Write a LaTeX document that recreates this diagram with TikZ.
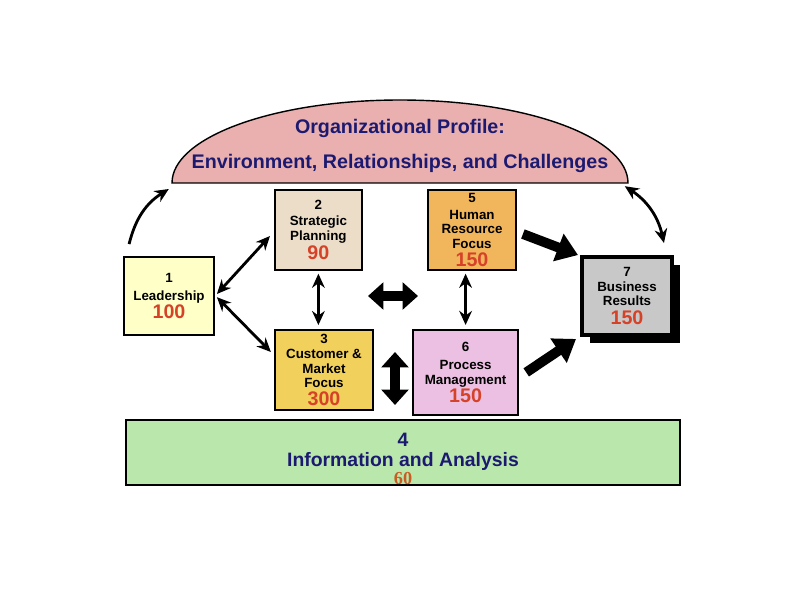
\documentclass[tikz,border=0pt]{standalone}
\usepackage{fontspec}
\setmainfont{Liberation Sans}
\newfontfamily\ptserif{Liberation Serif}
\usetikzlibrary{arrows.meta,positioning,calc,shadows}
\definecolor{BNavy}{RGB}{28,26,112}
\definecolor{BRed}{RGB}{214,66,40}
\definecolor{BOrange}{RGB}{200,92,34}
\definecolor{BProfile}{RGB}{234,176,176}
\definecolor{BLead}{RGB}{255,255,200}
\definecolor{BStrat}{RGB}{236,221,201}
\definecolor{BCust}{RGB}{242,208,92}
\definecolor{BHuman}{RGB}{241,182,92}
\definecolor{BProc}{RGB}{236,192,226}
\definecolor{BRes}{RGB}{200,200,200}
\definecolor{BInfo}{RGB}{186,232,172}
\newcommand{\critpts}[1]{{\fontsize{14}{14}\selectfont\color{BRed}#1}}

\begin{document}
\begin{tikzpicture}[
  crit/.style={draw=black,line width=1.3pt,align=center,inner sep=1pt,
               font=\bfseries\fontsize{9.5}{10.5}\selectfont},
  thin/.style={line width=2pt,{Stealth[length=10pt,width=9pt]}-{Stealth[length=10pt,width=9pt]}},
  fat/.style={line width=7pt,-{Triangle[length=15pt,width=20pt]}},
  fatboth/.style={line width=6.5pt,{Triangle[length=11pt,width=19pt]}-{Triangle[length=11pt,width=19pt]}},
]
\useasboundingbox (0,0) rectangle (20,15);
\fill[white] (0,0) rectangle (20,15);
\draw[fill=BProfile,line width=1pt] (4.3,10.425) arc[start angle=180,end angle=0,x radius=5.7,y radius=2.075] -- cycle;
\coordinate (profL) at (4.3,10.425);
\coordinate (profR) at (15.7,10.425);
\node[font=\bfseries\fontsize{14}{16}\selectfont,text=BNavy,align=center] (prof) at (10,11.36)
  {Organizational Profile:\\[9pt]Environment, Relationships, and Challenges};

\node[crit,fill=BLead,minimum width=2.25cm,minimum height=1.95cm] (lead) at (4.225,7.6) {1\\[2pt]Leadership\\\critpts{100}};
\node[crit,fill=BStrat,minimum width=2.175cm,minimum height=2cm] (strat) at (7.96,9.25) {2\\[1pt]Strategic\\Planning\\[1pt]\critpts{90}};
\node[crit,fill=BCust,minimum width=2.45cm,minimum height=2cm] (cust) at (8.1,5.75) {3\\Customer \&\\Market\\Focus\\[2pt]\critpts{300}};
\node[crit,fill=BHuman,minimum width=2.2cm,minimum height=2cm] (hr) at (11.8,9.25) {5\\[1pt]Human\\Resource\\Focus\\[2pt]\critpts{150}};
\node[crit,fill=BProc,minimum width=2.625cm,minimum height=2.125cm] (proc) at (11.64,5.69) {6\\[2pt]Process\\Management\\\critpts{150}};
\node[crit,fill=BRes,line width=2.8pt,minimum width=2.25cm,minimum height=1.95cm,
      drop shadow={shadow xshift=0.2cm,shadow yshift=-0.2cm,fill=black,opacity=1}] (res) at (15.675,7.6) {7\\Business\\Results\\[3pt]\critpts{150}};
\node[crit,fill=BInfo,minimum width=13.85cm,minimum height=1.625cm] (info) at (10.075,3.69) {};
\node[text=BNavy,align=center,font=\bfseries\fontsize{13.8}{14}\selectfont] (infotxt) at ($(info.center)+(0,-0.17)$)
  {4\\Information and Analysis\\[-1pt]{\ptserif\fontsize{13}{13}\selectfont\color{BOrange}60}};

\coordinate (hzL) at (9.2,7.6);
\coordinate (hzR) at (10.45,7.6);
\coordinate (vtT) at (9.875,6.2);
\coordinate (vtB) at (9.875,4.875);

\draw[line width=2pt,-{Stealth[length=10pt,width=9pt]}] ($(lead.north west)+(0.15,0.3)$) to[bend left=22] ($(profL)+(-0.08,-0.15)$);
\draw[thin] ($(profR)+(-0.08,-0.08)$) to[bend left=22] ($(res.north east)+(-0.25,0.3)$);
\draw[thin] ($(lead.east)+(0.05,0.05)$) -- ($(strat.west)+(-0.1,-0.15)$);
\draw[thin] ($(lead.east)+(0.05,-0.03)$) -- ($(cust.west)+(-0.08,0.45)$);
\draw[thin] ($(strat.south)+(0,-0.07)$) -- ($(strat.south |- cust.north)+(0,0.1)$);
\draw[thin] ($(proc.north |- hr.south)+(0,-0.07)$) -- ($(proc.north)+(0,0.1)$);
\draw[fat] ($(hr.east)+(0.15,-0.1)$) -- ($(res.north west)+(-0.05,0)$);
\draw[fat] ($(proc.east)+(0.18,0)$) -- ($(res.south west)+(-0.1,-0.05)$);
\draw[fatboth] (hzL) -- (hzR);
\draw[fatboth] (vtT) -- (vtB);
\end{tikzpicture}
\end{document}
